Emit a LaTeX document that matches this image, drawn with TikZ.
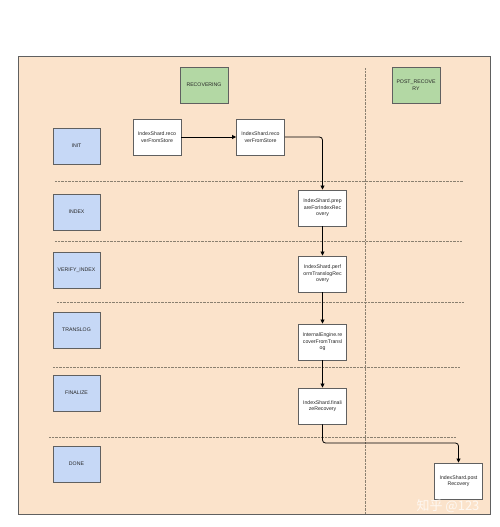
\documentclass[tikz,border=0pt]{standalone}
\usepackage{fontspec}
\setmainfont{Liberation Sans}
\newfontfamily\cjk{Noto Sans CJK SC}
\usetikzlibrary{arrows.meta}
\definecolor{peach}{HTML}{FBE3CB}
\definecolor{grn}{HTML}{B3D8A4}
\definecolor{blu}{HTML}{C6D8F6}
\definecolor{edge}{HTML}{606060}
\definecolor{sepc}{HTML}{8A8070}
\begin{document}
\begin{tikzpicture}[x=1pt,y=-1pt,
  every node/.style={font=\fontsize{5.2}{6.6}\selectfont, text=black!85, align=center, inner sep=0pt},
  statebox/.style={draw=edge, line width=0.9pt, fill=blu, minimum width=47pt, minimum height=36pt},
  phasebox/.style={draw=edge, line width=0.9pt, fill=grn, minimum width=48pt, minimum height=36pt},
  stepbox/.style={draw=edge, line width=0.9pt, fill=white, minimum width=48pt, minimum height=36pt},
  sep/.style={draw=sepc, dash pattern=on 0.7pt off 0.7pt, line width=0.7pt},
  flow/.style={draw=black, line width=0.8pt, rounded corners=3pt, -{Triangle[length=4pt,width=4pt]}}]
\useasboundingbox (0,0) rectangle (500,527);
\fill[white] (0,0) rectangle (500,527);
\draw[draw=edge, line width=0.9pt, fill=peach] (18,56) rectangle (490,514);
% separators
\draw[sep] (365,68) -- (365,514);
\draw[sep] (55,181) -- (463,181);
\draw[sep] (55,241) -- (462,241);
\draw[sep] (57,302) -- (464,302);
\draw[sep] (53,367) -- (460,367);
\draw[sep] (49,437) -- (456,437);
% phases
\node[phasebox] (rec) at (204,85) {RECOVERING};
\node[phasebox] (post) at (416,85) {POST\_RECOVE\\RY};
% states
\node[statebox] (init) at (76.5,146) {INIT};
\node[statebox] (index) at (76.5,212) {INDEX};
\node[statebox] (verify) at (76.5,270) {VERIFY\_INDEX};
\node[statebox] (translog) at (76.5,330) {TRANSLOG};
\node[statebox] (finalize) at (76.5,393) {FINALIZE};
\node[statebox] (done) at (76.5,464) {DONE};
% steps
\node[stepbox] (a) at (157,137) {IndexShard.reco\\verFromStore};
\node[stepbox] (b) at (260.5,137) {IndexShard.reco\\verFromStore};
\node[stepbox] (c) at (322.5,208) {IndexShard.prep\\areForIndexRec\\overy};
\node[stepbox] (d) at (322.5,274) {IndexShard.perf\\ormTranslogRec\\overy};
\node[stepbox] (e) at (322.5,342) {InternalEngine.re\\coverFromTransl\\og};
\node[stepbox] (f) at (322.5,406) {IndexShard.finali\\zeRecovery};
\node[stepbox] (g) at (458.5,481) {IndexShard.post\\Recovery};
% connectors
\draw[flow] (a) -- (b);
\draw[flow] (b.east) -| (c.north);
\draw[flow] (c) -- (d);
\draw[flow] (d) -- (e);
\draw[flow] (e) -- (f);
\draw[flow] (f.south) |- (390,443) -| (g.north);
% watermark
\node[font=\cjk\fontsize{13}{13}\selectfont, text=white, opacity=0.75] (wm) at (448,506) {知乎 @123};
\end{tikzpicture}
\end{document}
